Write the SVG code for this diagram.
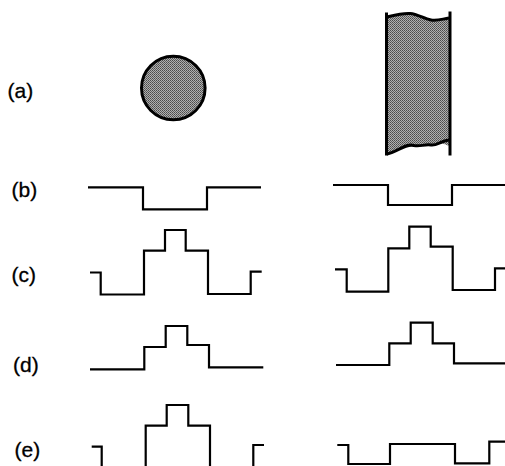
<svg xmlns="http://www.w3.org/2000/svg" width="505" height="466" viewBox="0 0 505 466">
<style>
.lbl{font-family:"Liberation Sans",Arial,sans-serif;font-size:21px;fill:#000;stroke:#000;stroke-width:0.3}
.w{fill:none;stroke:#000;stroke-width:2.2;stroke-linejoin:miter;stroke-linecap:butt}
.edge{fill:none;stroke:#000;stroke-width:3}
</style>
<defs>
<pattern id="stip" width="2" height="2" patternUnits="userSpaceOnUse">
<rect width="2" height="2" fill="#b0b0b0"/>
<rect width="1" height="1" fill="#4a4a4a"/>
<rect x="1" y="1" width="1" height="1" fill="#606060"/>
</pattern>
</defs>
<rect width="505" height="466" fill="#fff"/>
<g id="labels">
<text class="lbl" x="7.5" y="98">(a)</text>
<text class="lbl" x="11.5" y="196.5">(b)</text>
<text class="lbl" x="11.5" y="282">(c)</text>
<text class="lbl" x="13" y="371.5">(d)</text>
<text class="lbl" x="14.5" y="457">(e)</text>
</g>
<g id="circle">
<circle cx="173.3" cy="88" r="31.8" fill="url(#stip)" stroke="#000" stroke-width="3"/>
</g>
<g id="strip">
<path d="M387,17 C395,15 402,13 410,13.5 C418,14 424,19 431,20 C438,21 442,19 449,18 L449,146 C440,141 437,146 431,145 C424,144 420,147 414,145.5 C405,143 398,152 387,154 Z" fill="url(#stip)"/>
<path class="edge" d="M387,17 C395,15 402,13 410,13.5 C418,14 424,19 431,20 C438,21 442,19 449,18"/>
<path class="edge" d="M387,154 C398,152 405,143 414,145.5 C420,147 424,144 431,145 C437,146 440,141 449,140"/>
<line class="edge" x1="386.5" y1="12.5" x2="386.5" y2="155.5"/>
<line class="edge" x1="450" y1="11.5" x2="450" y2="155.5"/>
</g>
<g id="waveforms">
<path id="b-left" class="w" d="M88,187.3 H143 V209.3 H207 V187.3 H261"/>
<path id="b-right" class="w" d="M333,185 H388 V205 H452 V185 H505"/>
<path id="c-left" class="w" d="M90,272.5 H100.7 V294.5 H144 V250.7 H165 V230 H185.7 V250.7 H208 V294 H250.7 V271.7 H261.7"/>
<path id="c-right" class="w" d="M335,269.3 H346.7 V291.7 H388.3 V248.3 H409.3 V226.7 H430.7 V246.7 H452.7 V290 H495 V268.3 H505"/>
<path id="d-left" class="w" d="M90,369.3 H144.3 V347 H165.7 V326 H187.3 V345 H209 V367.3 H263.3"/>
<path id="d-right" class="w" d="M336,365 H389.3 V343.3 H410.7 V322.7 H432.7 V343.3 H454 V363.3 H505"/>
<path id="e-left-a" class="w" d="M91.7,446.7 H101.7 V466"/>
<path id="e-left-b" class="w" d="M145.7,466 V425.7 H166.7 V405 H188.3 V425.7 H210 V466"/>
<path id="e-left-c" class="w" d="M253.3,466 V445 H264"/>
<path id="e-right" class="w" d="M337.3,445 H348.3 V464 H390 V444 H455 V463.3 H489.3 V441.7 H505"/>
</g>
</svg>
